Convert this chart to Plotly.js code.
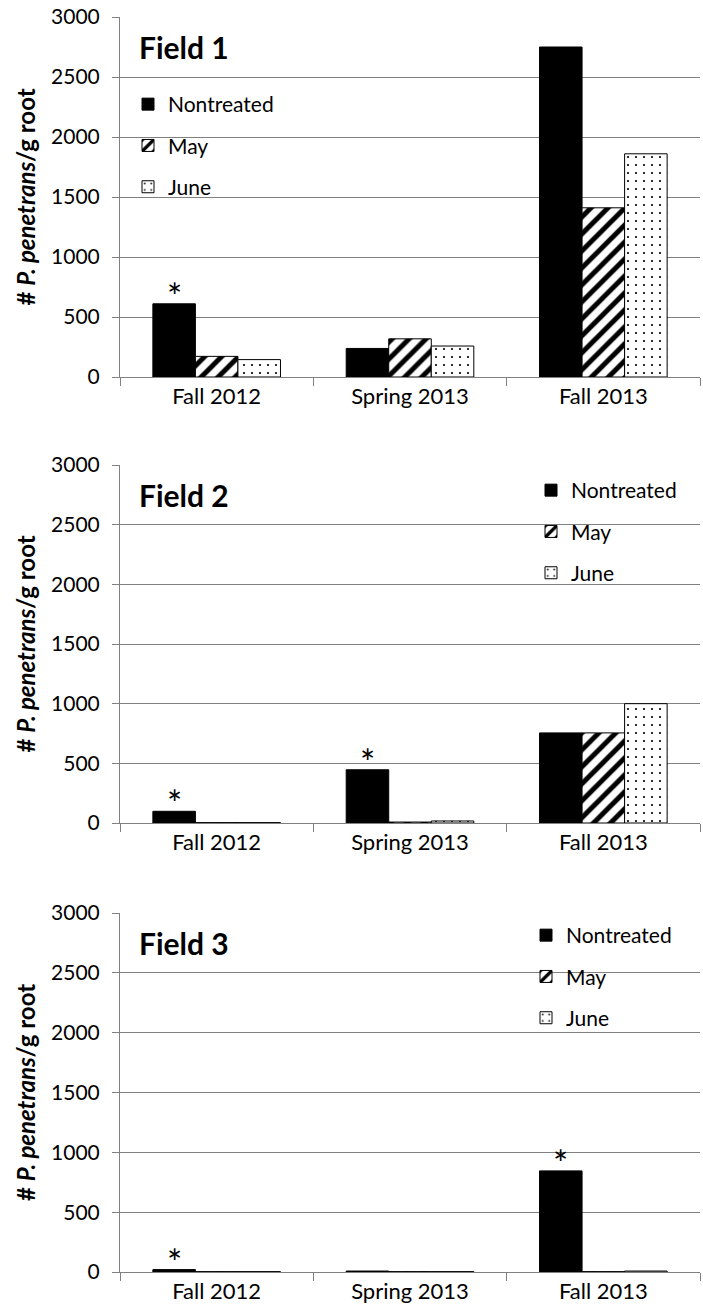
<!DOCTYPE html>
<html>
<head>
<meta charset="utf-8">
<script src="https://cdn.plot.ly/plotly-3.0.1.min.js"></script>
<style>html,body{margin:0;padding:0;background:#fff;} #chart{width:703px;height:1316px;}</style>
</head>
<body>
<div id="chart"></div>
<script>
// ---- data ----
const categories = ['Fall 2012', 'Spring 2013', 'Fall 2013'];
const seriesNames = ['Nontreated', 'May', 'June'];
const fieldLabels = ['Field 1', 'Field 2', 'Field 3'];

const f1Nontreated = [610, 238, 2750];
const f1May = [172, 318, 1410];
const f1June = [145, 258, 1860];

const f2Nontreated = [98, 446, 755];
const f2May = [3, 8, 755];
const f2June = [3, 17, 1000];

const f3Nontreated = [20, 8, 845];
const f3May = [3, 3, 3];
const f3June = [3, 3, 8];

const f1Stars = ['Fall 2012'];
const f2Stars = ['Fall 2012', 'Spring 2013'];
const f3Stars = ['Fall 2012', 'Fall 2013'];

const yTickVals = [0, 500, 1000, 1500, 2000, 2500, 3000];

// ---- layout helpers ----
const W = 703, H = 1316;
const mL = 120, mR = 3, mT = 17, mB = 44;
const plotH = H - mT - mB;
const plotW = W - mL - mR;
const py = p => (H - mB - p) / plotH;   // pixel y -> paper
const px = p => (p - mL) / plotW;       // pixel x -> paper

const FONT = 'Lato, "Open Sans", sans-serif';
const GRID = '#808080';
const BARGAP = 0.34;

const fields = [
  {nt: f1Nontreated, may: f1May, june: f1June, stars: f1Stars, top: 17, bot: 377, legend: {x: 128, y: 84}, label: {x: 137, y: 47}},
  {nt: f2Nontreated, may: f2May, june: f2June, stars: f2Stars, top: 465, bot: 823, legend: {x: 531, y: 470}, label: {x: 137, y: 495}},
  {nt: f3Nontreated, may: f3May, june: f3June, stars: f3Stars, top: 913, bot: 1272, legend: {x: 526, y: 915}, label: {x: 137, y: 943}}
];

const data = [];
const layout = {
  width: W, height: H,
  margin: {l: mL, r: mR, t: mT, b: mB},
  paper_bgcolor: '#fff', plot_bgcolor: '#fff',
  font: {family: FONT, size: 21, color: '#000'},
  barmode: 'group', bargap: BARGAP, bargroupgap: 0,
  showlegend: true,
  annotations: []
};

fields.forEach((f, k) => {
  const n = k + 1;
  const xa = 'x' + (n === 1 ? '' : n), ya = 'y' + (n === 1 ? '' : n);
  const legName = 'legend' + (n === 1 ? '' : n);
  const vals = [f.nt, f.may, f.june];
  const markers = [
    {color: '#000', line: {color: '#000', width: 1}},
    {color: '#fff', line: {color: '#000', width: 1}, pattern: {shape: '/', fgcolor: '#000', bgcolor: '#fff', size: 12, solidity: 0.42, fillmode: 'replace'}},
    {color: '#fff', line: {color: '#000', width: 1}, pattern: {shape: '.', fgcolor: '#000', bgcolor: '#fff', size: 8, solidity: 0.06, fillmode: 'replace'}}
  ];
  seriesNames.forEach((s, j) => {
    data.push({
      type: 'bar', x: categories, y: vals[j], name: s,
      xaxis: xa, yaxis: ya, legend: legName, legendgroup: legName + s,
      marker: markers[j], hoverinfo: 'skip'
    });
  });
  const axKeyX = 'xaxis' + (n === 1 ? '' : n), axKeyY = 'yaxis' + (n === 1 ? '' : n);
  layout[axKeyX] = {
    domain: [0, 1], anchor: ya, type: 'category',
    showline: true, linecolor: GRID, linewidth: 1,
    ticks: 'outside', tickson: 'boundaries', ticklen: 8, tickcolor: GRID, tickwidth: 1,
    showgrid: false, tickfont: {family: FONT, size: 22, color: '#000'},
    range: [-0.5, 2.5], fixedrange: true
  };
  layout[axKeyY] = {
    domain: [py(f.bot), py(f.top)], anchor: xa,
    range: [0, 3000], tickvals: yTickVals, ticktext: yTickVals.map(String),
    showgrid: true, gridcolor: GRID, gridwidth: 1, zeroline: false,
    showline: true, linecolor: GRID, linewidth: 1,
    ticks: 'outside', ticklen: 7, tickcolor: GRID, ticklabelstandoff: 8,
    tickfont: {family: FONT, size: 21, color: '#000'},
    title: {text: '<b># <i>P. penetrans</i>/g root</b>', font: {family: FONT, size: 24, color: '#000'}, standoff: 8},
    fixedrange: true
  };
  layout[legName] = {
    x: px(f.legend.x), y: py(f.legend.y), xanchor: 'left', yanchor: 'top',
    xref: 'paper', yref: 'paper',
    bgcolor: 'rgba(0,0,0,0)', borderwidth: 0,
    traceorder: 'grouped', tracegroupgap: 11,
    font: {family: FONT, size: 21, color: '#000'}
  };
  layout.annotations.push({
    xref: 'paper', yref: 'paper', x: px(f.label.x), y: py(f.label.y),
    xanchor: 'left', yanchor: 'middle', showarrow: false,
    text: '<b>' + fieldLabels[k] + '</b>', font: {family: FONT, size: 30, color: '#000'}
  });
  const barW = (1 - BARGAP) / 3;
  f.stars.forEach(c => {
    const i = categories.indexOf(c);
    layout.annotations.push({
      xref: xa, yref: ya, x: i - barW, y: f.nt[i],
      xanchor: 'center', yanchor: 'bottom', showarrow: false, yshift: -16,
      text: '*', font: {family: FONT, size: 36, color: '#000'}
    });
  });
});

Plotly.newPlot('chart', data, layout, {displayModeBar: false, staticPlot: true});
</script>
</body>
</html>
